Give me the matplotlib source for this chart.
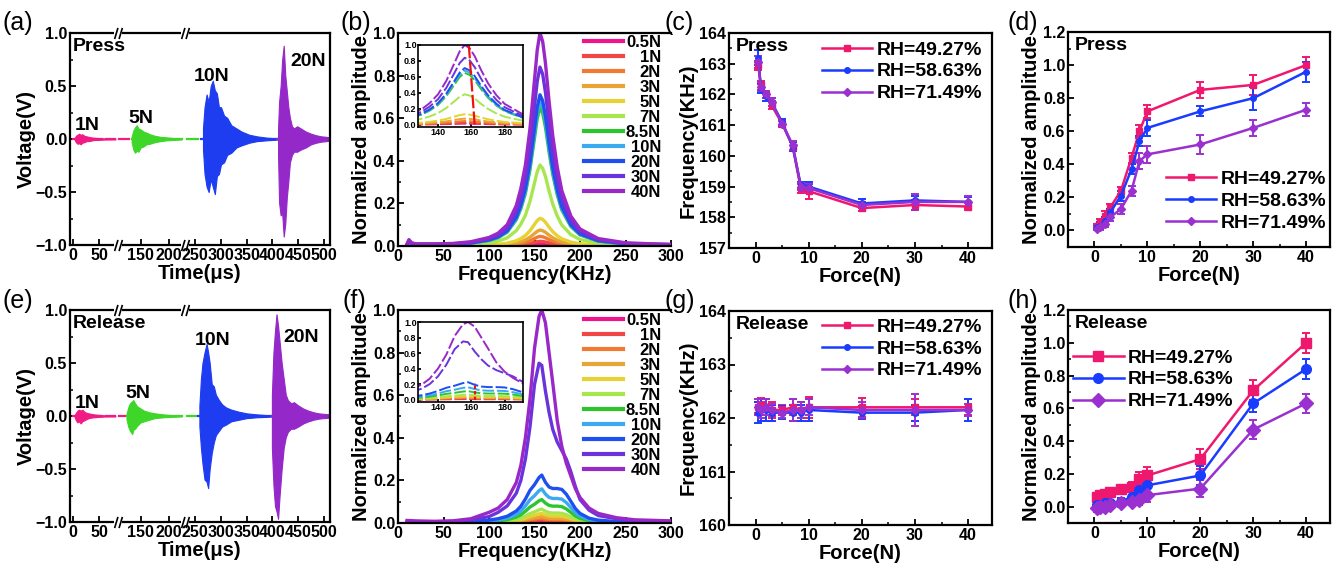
import numpy as np
import matplotlib.pyplot as plt
import matplotlib.transforms as mtransforms
from matplotlib.path import Path
from matplotlib.ticker import MultipleLocator

plt.rcParams['font.family'] = ['Liberation Sans', 'DejaVu Sans']
plt.rcParams['font.weight'] = 'bold'
plt.rcParams['axes.labelweight'] = 'bold'
plt.rcParams['axes.linewidth'] = 1.6
plt.rcParams['xtick.direction'] = 'in'
plt.rcParams['ytick.direction'] = 'in'
plt.rcParams['xtick.major.width'] = 1.3
plt.rcParams['ytick.major.width'] = 1.3
plt.rcParams['xtick.minor.width'] = 1.1
plt.rcParams['ytick.minor.width'] = 1.1
plt.rcParams['xtick.major.size'] = 4
plt.rcParams['ytick.major.size'] = 4
plt.rcParams['xtick.minor.size'] = 2
plt.rcParams['ytick.minor.size'] = 2
plt.rcParams['xtick.labelsize'] = 11.5
plt.rcParams['ytick.labelsize'] = 11.5
plt.rcParams['xtick.major.pad'] = 2
plt.rcParams['ytick.major.pad'] = 2
plt.rcParams['axes.labelsize'] = 14.5

# ---------------- data ----------------
# (a) press waveforms: envelopes (us, V)
a1_t = [3, 6, 9, 12, 15, 18, 22, 26, 30, 35, 40, 50, 60, 80]
a1_up = [0.0, 0.03, 0.04, 0.05, 0.04, 0.045, 0.03, 0.025, 0.02, 0.015, 0.012, 0.008, 0.005, 0.004]
a1_lo = [0.0, -0.03, -0.045, -0.04, -0.05, -0.035, -0.03, -0.02, -0.02, -0.015, -0.01, -0.008, -0.005, -0.004]
a5_t = [134, 137, 140, 143, 146, 150, 155, 160, 166, 175, 185, 196, 210, 222]
a5_up = [0.02, 0.08, 0.11, 0.13, 0.10, 0.09, 0.07, 0.06, 0.045, 0.03, 0.02, 0.015, 0.008, 0.004]
a5_lo = [-0.03, -0.10, -0.13, -0.11, -0.12, -0.08, -0.07, -0.05, -0.045, -0.03, -0.02, -0.012, -0.008, -0.004]
a10_t = [265, 268, 272, 276, 280, 284, 288, 292, 296, 300, 306, 312, 320, 330, 340, 355, 370, 390, 409]
a10_up = [0.1, 0.3, 0.42, 0.35, 0.5, 0.55, 0.46, 0.43, 0.3, 0.3, 0.22, 0.2, 0.13, 0.1, 0.07, 0.04, 0.025, 0.012, 0.006]
a10_lo = [-0.1, -0.33, -0.45, -0.5, -0.38, -0.45, -0.52, -0.35, -0.33, -0.24, -0.22, -0.15, -0.13, -0.08, -0.06, -0.035, -0.02, -0.012, -0.006]
a20_t = [411, 413, 416, 419, 422, 425, 428, 431, 434, 438, 442, 448, 455, 465, 475, 485, 495, 505, 512]
a20_up = [0.1, 0.35, 0.5, 0.75, 0.88, 0.6, 0.45, 0.3, 0.2, 0.12, 0.1, 0.12, 0.1, 0.07, 0.05, 0.035, 0.025, 0.02, 0.015]
a20_lo = [-0.15, -0.6, -0.72, -0.7, -0.92, -0.8, -0.55, -0.4, -0.22, -0.15, -0.12, -0.12, -0.1, -0.08, -0.05, -0.035, -0.025, -0.02, -0.015]

# (e) release waveforms
e1_t = [3, 6, 9, 12, 15, 18, 22, 26, 30, 35, 40, 50, 60, 80]
e1_up = [0.0, 0.03, 0.05, 0.06, 0.05, 0.06, 0.04, 0.03, 0.025, 0.02, 0.015, 0.01, 0.006, 0.004]
e1_lo = [0.0, -0.04, -0.06, -0.05, -0.07, -0.05, -0.04, -0.03, -0.02, -0.015, -0.012, -0.008, -0.005, -0.004]
e5_t = [125, 128, 131, 135, 137, 140, 144, 150, 156, 165, 175, 190, 205, 222]
e5_up = [0.02, 0.08, 0.12, 0.14, 0.15, 0.12, 0.09, 0.07, 0.05, 0.035, 0.025, 0.015, 0.008, 0.004]
e5_lo = [-0.03, -0.1, -0.14, -0.17, -0.13, -0.12, -0.09, -0.06, -0.05, -0.035, -0.02, -0.012, -0.008, -0.004]
e10_t = [258, 261, 264, 268, 272, 275, 278, 282, 286, 290, 296, 302, 310, 320, 335, 350, 370, 390, 399]
e10_up = [0.1, 0.35, 0.5, 0.6, 0.68, 0.6, 0.5, 0.3, 0.28, 0.2, 0.15, 0.11, 0.08, 0.06, 0.04, 0.025, 0.015, 0.008, 0.005]
e10_lo = [-0.1, -0.3, -0.45, -0.6, -0.62, -0.68, -0.5, -0.35, -0.25, -0.18, -0.14, -0.1, -0.08, -0.05, -0.035, -0.02, -0.012, -0.008, -0.005]
e20_t = [399, 402, 405, 408, 411, 414, 418, 422, 426, 430, 436, 442, 450, 460, 470, 480, 490, 500, 512]
e20_up = [0.2, 0.6, 0.8, 0.96, 0.85, 0.7, 0.5, 0.35, 0.2, 0.15, 0.12, 0.13, 0.1, 0.07, 0.05, 0.035, 0.025, 0.02, 0.015]
e20_lo = [-0.3, -0.65, -0.85, -0.9, -0.97, -0.75, -0.5, -0.3, -0.2, -0.15, -0.12, -0.12, -0.1, -0.07, -0.05, -0.035, -0.025, -0.02, -0.015]

# flat parts of the traces between bursts (start, end)
a_flat = [[(0, 55), (62, 80), (112, 130)], [(134, 222), (234, 255)], [(262, 409)], [(409, 512)]]
e_flat = [[(0, 55), (62, 80), (112, 122)], [(125, 222), (234, 252)], [(255, 399)], [(399, 512)]]
wave_colors = ['#F01C84', '#3FD62A', '#1E3CF0', '#9428C8']
a_labels = ['1N', '5N', '10N', '20N']
a_lab_pos = [(28, 0.13), (150, 0.19), (282, 0.59), (470, 0.73)]
e_lab_pos = [(28, 0.12), (145, 0.21), (283, 0.71), (455, 0.74)]

# (b),(f) spectra
forces_spec = ['0.5N', '1N', '2N', '3N', '5N', '7N', '8.5N', '10N', '20N', '30N', '40N']
spec_colors = ['#F0148C', '#F04646', '#F07A32', '#E6A535', '#E6D232', '#A8E650',
               '#2CC62C', '#3CAAF0', '#1E50F0', '#6A34DC', '#9A28C8']
fb = [10, 12, 15, 20, 40, 60, 80, 100, 110, 120, 130, 135, 140, 145, 150, 153, 156,
      159, 162, 166, 170, 175, 180, 190, 200, 220, 250, 280, 300]
shape_b = [0.01, 0.03, 0.015, 0.01, 0.01, 0.012, 0.02, 0.04, 0.06, 0.10, 0.19, 0.27, 0.38,
           0.55, 0.78, 0.92, 1.0, 0.96, 0.86, 0.68, 0.52, 0.37, 0.26, 0.14, 0.08, 0.035,
           0.015, 0.01, 0.008]
peaks_b = [0.012, 0.022, 0.045, 0.075, 0.13, 0.38, 0.65, 0.68, 0.71, 0.84, 1.0]
red_b_f = [158.5, 162.0]
red_b_y = [1.0, 0.0]

ff = [10, 20, 40, 60, 80, 100, 110, 120, 130, 135, 140, 145, 150, 155, 158, 162, 166,
      170, 175, 180, 185, 190, 195, 200, 210, 220, 240, 260, 300]
f_40N = [0.012, 0.01, 0.008, 0.01, 0.02, 0.05, 0.07, 0.11, 0.19, 0.27, 0.40, 0.58, 0.82,
         0.97, 1.0, 0.94, 0.80, 0.66, 0.48, 0.36, 0.28, 0.22, 0.16, 0.12, 0.07, 0.045,
         0.025, 0.015, 0.01]
f_30N = [0.008, 0.006, 0.006, 0.008, 0.015, 0.03, 0.05, 0.08, 0.14, 0.2, 0.30, 0.45, 0.65,
         0.75, 0.74, 0.62, 0.52, 0.44, 0.38, 0.34, 0.30, 0.24, 0.17, 0.11, 0.06, 0.035,
         0.02, 0.01, 0.008]
shape_f_low = [0.0, 0.0, 0.0, 0.01, 0.03, 0.06, 0.09, 0.14, 0.25, 0.35, 0.5, 0.68, 0.8,
               0.95, 1.0, 0.85, 0.75, 0.72, 0.72, 0.70, 0.6, 0.45, 0.3, 0.2, 0.1, 0.06,
               0.03, 0.015, 0.01]
peaks_f_low = [0.008, 0.015, 0.022, 0.03, 0.045, 0.065, 0.11, 0.16, 0.225]
red_f_f = [162, 162]
red_f_y = [0.0, 0.22]

# (c),(d),(g),(h) force sweeps
force = [0.5, 1, 2, 3, 5, 7, 8.5, 10, 20, 30, 40]
rh_labels = ['RH=49.27%', 'RH=58.63%', 'RH=71.49%']
rh_colors = ['#F0186E', '#1A3CFF', '#9A30D0']
rh_markers = ['s', 'o', 'D']

c_freq = [[162.95, 162.3, 162.0, 161.65, 161.05, 160.3, 158.95, 158.85, 158.3, 158.4, 158.35],
          [163.2, 162.2, 161.95, 161.75, 161.1, 160.3, 159.05, 159.0, 158.45, 158.55, 158.5],
          [163.05, 162.25, 162.0, 161.75, 161.05, 160.35, 159.0, 158.95, 158.4, 158.5, 158.5]]
c_err = [[0.15, 0.15, 0.12, 0.12, 0.1, 0.15, 0.15, 0.25, 0.1, 0.15, 0.1],
         [0.25, 0.15, 0.15, 0.12, 0.1, 0.15, 0.1, 0.15, 0.15, 0.15, 0.15],
         [0.2, 0.15, 0.12, 0.12, 0.1, 0.15, 0.12, 0.15, 0.1, 0.25, 0.2]]
d_amp = [[0.03, 0.05, 0.09, 0.14, 0.24, 0.44, 0.60, 0.72, 0.85, 0.88, 1.0],
         [0.02, 0.03, 0.06, 0.11, 0.21, 0.37, 0.54, 0.62, 0.72, 0.80, 0.96],
         [0.01, 0.02, 0.04, 0.08, 0.13, 0.24, 0.42, 0.46, 0.52, 0.62, 0.73]]
d_err = [[0.01, 0.02, 0.03, 0.02, 0.02, 0.03, 0.04, 0.04, 0.05, 0.06, 0.05],
         [0.01, 0.02, 0.02, 0.02, 0.03, 0.03, 0.03, 0.05, 0.03, 0.07, 0.06],
         [0.01, 0.02, 0.02, 0.02, 0.03, 0.03, 0.05, 0.05, 0.06, 0.05, 0.04]]
g_freq = [[162.2, 162.25, 162.2, 162.15, 162.15, 162.2, 162.15, 162.2, 162.2, 162.2, 162.2],
          [162.1, 162.15, 162.15, 162.1, 162.1, 162.1, 162.1, 162.15, 162.1, 162.1, 162.15],
          [162.2, 162.15, 162.2, 162.15, 162.1, 162.15, 162.15, 162.2, 162.15, 162.15, 162.15]]
g_err = [[0.1, 0.12, 0.15, 0.15, 0.1, 0.15, 0.15, 0.2, 0.18, 0.15, 0.15],
         [0.2, 0.2, 0.2, 0.15, 0.12, 0.15, 0.15, 0.2, 0.12, 0.15, 0.2],
         [0.15, 0.15, 0.15, 0.12, 0.1, 0.2, 0.15, 0.15, 0.15, 0.3, 0.12]]
h_amp = [[0.06, 0.07, 0.08, 0.09, 0.11, 0.12, 0.17, 0.19, 0.29, 0.71, 1.0],
         [0.01, 0.01, 0.02, 0.02, 0.03, 0.06, 0.10, 0.13, 0.19, 0.63, 0.84],
         [-0.01, 0.0, 0.0, 0.01, 0.02, 0.03, 0.04, 0.07, 0.11, 0.47, 0.63]]
h_err = [[0.02, 0.02, 0.02, 0.02, 0.02, 0.03, 0.04, 0.05, 0.06, 0.06, 0.06],
         [0.02, 0.02, 0.02, 0.02, 0.02, 0.03, 0.04, 0.05, 0.06, 0.05, 0.06],
         [0.02, 0.02, 0.02, 0.02, 0.02, 0.02, 0.03, 0.04, 0.05, 0.06, 0.06]]

# ---------------- figure ----------------
W, H = 1336, 564
fig = plt.figure(figsize=(W / 100, H / 100), dpi=100)


def box(l, t, r, b):
    return fig.add_axes([l / W, 1 - b / H, (r - l) / W, (b - t) / H])


# broken time axis
brk_t = [-5, 85, 110, 228, 230, 512]
brk_u = [0, 48, 48, 115, 115, 260]


def fwd(t):
    return np.interp(t, brk_t, brk_u)


def inv(u):
    return np.interp(u, brk_u, brk_t)


slash = Path([(-0.7, -1), (-0.1, 1), (0.1, -1), (0.7, 1)],
             [Path.MOVETO, Path.LINETO, Path.MOVETO, Path.LINETO])


def wave_panel(ax, bursts, flats, lab_pos, title):
    ax.set_xscale('function', functions=(fwd, inv))
    for (t, up, lo), fl, c in zip(bursts, flats, wave_colors):
        ax.fill_between(t, lo, up, color=c, lw=0.8, edgecolor=c)
        for s, e in fl:
            ax.plot([s, e], [0, 0], color=c, lw=1.6)
    ax.set_xlim(-5, 512)
    ax.set_ylim(-1, 1)
    ax.set_xticks([0, 50, 150, 200, 250, 300, 350, 400, 450, 500])
    ax.set_yticks([-1.0, -0.5, 0.0, 0.5, 1.0])
    ax.yaxis.set_minor_locator(MultipleLocator(0.25))
    ax.set_ylabel('Voltage(V)', labelpad=0)
    ax.set_xlabel('Time(μs)', labelpad=1)
    for lab, (x, y) in zip(a_labels, lab_pos):
        ax.text(x, y, lab, ha='center', va='center', fontsize=14, fontweight='bold')
    ax.text(0.012, 0.975, title, transform=ax.transAxes, ha='left', va='top',
            fontsize=14, fontweight='bold')
    trans = mtransforms.blended_transform_factory(ax.transData, ax.transAxes)
    for tb in [97, 229]:
        for yb in [0, 1]:
            ax.plot([tb], [yb], transform=trans, marker='_', ms=6, mew=4, color='white',
                    clip_on=False, zorder=5)
            ax.plot([tb], [yb], transform=trans, marker=slash, ms=8, mew=1.2,
                    color='black', clip_on=False, zorder=6)


def right_align_legend(leg):
    renderer = fig.canvas.get_renderer()
    ws = [t.get_window_extent(renderer).width for t in leg.get_texts()]
    wmax = max(ws)
    for t, w in zip(leg.get_texts(), ws):
        t.set_position((wmax - w, 0))


def spec_panel(ax, ins, curves, red_x, red_y, red_style, leg_anchor):
    for (x, y), c, lab in zip(curves, spec_colors, forces_spec):
        ax.plot(x, y, color=c, lw=2.4, label=lab)
        ins.plot(x, y, color=c, lw=1.4, ls=(0, (6, 1.5)))
    ins.plot(red_x, red_y, color='#F01010', lw=1.6, ls=red_style)
    ax.set_xlim(0, 300)
    ax.set_ylim(0, 1.0)
    ax.xaxis.set_major_locator(MultipleLocator(50))
    ax.yaxis.set_major_locator(MultipleLocator(0.2))
    ax.yaxis.set_minor_locator(MultipleLocator(0.1))
    ax.xaxis.set_minor_locator(MultipleLocator(25))
    ax.yaxis.set_major_formatter(lambda v, p: f'{v:.1f}')
    ax.spines['right'].set_visible(False)
    ax.set_xlabel('Frequency(KHz)', labelpad=1)
    ax.set_ylabel('Normalized amplitude', labelpad=1)
    leg = ax.legend(loc='upper right', bbox_to_anchor=leg_anchor, bbox_transform=fig.transFigure,
                    frameon=False, fontsize=12, handlelength=2.3, handletextpad=0.2,
                    labelspacing=0.0, borderpad=0, borderaxespad=0)
    for l in leg.get_lines():
        l.set_linewidth(3)
    right_align_legend(leg)
    ins.set_xlim(128, 191)
    ins.set_ylim(-0.03, 1.0)
    ins.set_xticks([140, 160, 180])
    ins.set_yticks([0.0, 0.2, 0.4, 0.6, 0.8, 1.0])
    ins.yaxis.set_major_formatter(lambda v, p: f'{v:.1f}')
    ins.tick_params(labelsize=6.5, length=2, pad=1)
    for s in ins.spines.values():
        s.set_linewidth(1.2)


def force_panel(ax, ys, errs, ylim, ymaj, ymin, ylabel, title, ms, leg_kw, fmt=None):
    handles = []
    for y, e, c, m, lab in zip(ys, errs, rh_colors, rh_markers, rh_labels):
        cont = ax.errorbar(force, y, yerr=e, color=c, marker=m, ms=ms, lw=1.8, capsize=3,
                           elinewidth=1.4, capthick=1.4, label=lab)
        handles.append(cont[0])
    ax.set_xlim(-5, 44.5)
    ax.set_ylim(*ylim)
    ax.xaxis.set_major_locator(MultipleLocator(10))
    ax.xaxis.set_minor_locator(MultipleLocator(5))
    ax.yaxis.set_major_locator(MultipleLocator(ymaj))
    ax.yaxis.set_minor_locator(MultipleLocator(ymin))
    if fmt:
        ax.yaxis.set_major_formatter(fmt)
    ax.set_xlabel('Force(N)', labelpad=1)
    ax.set_ylabel(ylabel, labelpad=1)
    ax.text(0.025, 0.975, title, transform=ax.transAxes, ha='left', va='top',
            fontsize=14, fontweight='bold')
    ax.legend(handles, rh_labels, frameon=False, fontsize=14, handlelength=2.6,
              handletextpad=0.2, labelspacing=0.22, borderpad=0, borderaxespad=0,
              bbox_transform=fig.transFigure, **leg_kw)


# (a)
ax_a = box(70, 33, 330, 245)
wave_panel(ax_a, [(a1_t, a1_up, a1_lo), (a5_t, a5_up, a5_lo), (a10_t, a10_up, a10_lo),
                  (a20_t, a20_up, a20_lo)], a_flat, a_lab_pos, 'Press')
# (e)
ax_e = box(70, 310, 330, 522)
wave_panel(ax_e, [(e1_t, e1_up, e1_lo), (e5_t, e5_up, e5_lo), (e10_t, e10_up, e10_lo),
                  (e20_t, e20_up, e20_lo)], e_flat, e_lab_pos, 'Release')

# (b)
ax_b = box(398, 33, 671, 246)
ins_b = box(418, 45, 523, 127)
curves_b = [(fb, [p * s for s in shape_b]) for p in peaks_b]
spec_panel(ax_b, ins_b, curves_b, red_b_f, red_b_y, (0, (6, 1.5)), (661 / W, 1 - 35 / H))

# (f)
ax_f = box(398, 310, 671, 523)
ins_f = box(418, 322, 523, 402)
curves_f = [(ff, [p * s for s in shape_f_low]) for p in peaks_f_low] + [(ff, f_30N), (ff, f_40N)]
spec_panel(ax_f, ins_f, curves_f, red_f_f, red_f_y, (0, (1.5, 1)), (661 / W, 1 - 313 / H))

# (c)
ax_c = box(729, 33, 992, 248)
force_panel(ax_c, c_freq, c_err, (157, 164), 1, 0.5, 'Frequency(KHz)', 'Press', 4,
            dict(loc='upper right', bbox_to_anchor=(982 / W, 1 - 41 / H)))
# (g)
ax_g = box(729, 311, 992, 525)
force_panel(ax_g, g_freq, g_err, (160, 164), 1, 0.5, 'Frequency(KHz)', 'Release', 4,
            dict(loc='upper right', bbox_to_anchor=(982 / W, 1 - 318 / H)))
# (d)
fmt1 = lambda v, p: f'{v:.1f}'
ax_d = box(1068, 32, 1330, 247)
force_panel(ax_d, d_amp, d_err, (-0.1, 1.2), 0.2, 0.1, 'Normalized amplitude', 'Press', 4,
            dict(loc='lower right', bbox_to_anchor=(1326 / W, 1 - 232 / H)), fmt1)
# (h)
ax_h = box(1068, 310, 1330, 523)
force_panel(ax_h, h_amp, h_err, (-0.1, 1.2), 0.2, 0.1, 'Normalized amplitude', 'Release', 7,
            dict(loc='upper left', bbox_to_anchor=(1073 / W, 1 - 349 / H)), fmt1)

# panel letters
for lab, x, y in [('(a)', 2, 11), ('(b)', 340, 11), ('(c)', 665, 11), ('(d)', 1008, 11),
                  ('(e)', 2, 289), ('(f)', 343, 289), ('(g)', 665, 289), ('(h)', 1008, 289)]:
    fig.text(x / W, 1 - y / H, lab, ha='left', va='top', fontsize=18, fontweight='normal')

fig.savefig('out.png', dpi=100)
